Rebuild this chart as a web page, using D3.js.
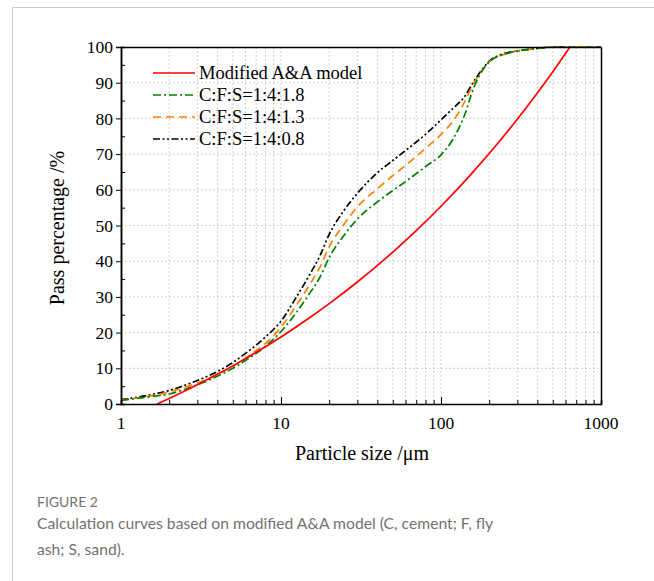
<!DOCTYPE html>
<html><head><meta charset="utf-8">
<script src="https://cdn.jsdelivr.net/npm/d3@7"></script>
<style>
html,body{margin:0;padding:0;background:#fff;}
svg{display:block;}
</style></head>
<body>
<svg id="chart" width="654" height="581"></svg>
<script>
// ---- data ----
const sizes = [1, 1.5, 2, 3, 4, 5, 6, 7, 8, 10, 12.5, 15, 17.5, 20, 25, 30, 40, 50, 60, 80, 100, 120, 140, 160, 180, 200, 250, 300, 400, 500, 700, 1000];
const mix18 = [1.0, 2.0, 2.8, 5.4, 7.8, 10.0, 12.2, 14.2, 16.2, 20.3, 25.7, 30.8, 35.5, 41.0, 47.5, 51.8, 56.6, 59.8, 62.3, 66.5, 69.8, 74.5, 80.8, 88.5, 93.2, 95.8, 98.0, 98.9, 99.6, 100, 100, 100];
const mix13 = [1.1, 2.2, 3.4, 5.9, 8.3, 10.5, 12.8, 15.0, 17.0, 21.5, 27.7, 33.2, 38.3, 44.0, 50.6, 55.2, 60.3, 64.0, 66.8, 71.6, 75.5, 79.5, 84.5, 89.8, 93.3, 95.8, 98.0, 98.9, 99.6, 100, 100, 100];
const mix08 = [1.2, 2.5, 3.8, 6.6, 9.1, 11.6, 14.2, 16.5, 18.8, 23.2, 30.0, 36.0, 41.5, 47.5, 54.5, 59.0, 64.8, 68.2, 71.0, 75.5, 79.6, 83.0, 86.0, 90.3, 93.6, 96.0, 98.2, 98.9, 99.6, 100, 100, 100];
const modelSizes = [1.68, 2, 3, 4, 5, 7, 10, 15, 20, 30, 50, 70, 100, 150, 200, 300, 400, 500, 640];
const modelValues = [0, 1.56, 5.39, 8.30, 10.68, 14.48, 18.79, 24.07, 28.10, 34.17, 42.56, 48.57, 55.40, 63.78, 70.15, 79.78, 87.10, 93.08, 100];
const legendLabels = ["Modified A&A model", "C:F:S=1:4:1.8", "C:F:S=1:4:1.3", "C:F:S=1:4:0.8"];
const xTickLabels = ["1", "10", "100", "1000"];
const yTickLabels = [0, 10, 20, 30, 40, 50, 60, 70, 80, 90, 100];

// ---- layout ----
const svg = d3.select("#chart");
const L = 121, R = 601, T = 47, B = 404;
const x = d3.scaleLog().domain([1, 1000]).range([L, R]);
const y = d3.scaleLinear().domain([0, 100]).range([B, T]);
const serif = "'Liberation Serif','Times New Roman',serif";

// card border
svg.append("path").attr("d", "M12.5,581 V7.5 H654").attr("fill", "none").attr("stroke", "#c8c8c8").attr("stroke-width", 1);

// grid
const minor = [];
for (let e = 0; e < 3; e++) for (let m = 1; m <= 9; m++) minor.push(m * Math.pow(10, e));
minor.push(1000);
const g = svg.append("g");
g.selectAll("line.vg").data(minor.filter(v => v > 1 && v < 1000)).enter().append("line")
  .attr("x1", d => x(d)).attr("x2", d => x(d)).attr("y1", T).attr("y2", B)
  .attr("stroke", "#c4c4c4").attr("stroke-width", 0.8).attr("stroke-dasharray", "2,2");
g.selectAll("line.hg").data(yTickLabels.filter(v => v > 0 && v < 100)).enter().append("line")
  .attr("x1", L).attr("x2", R).attr("y1", d => y(d)).attr("y2", d => y(d))
  .attr("stroke", "#c4c4c4").attr("stroke-width", 0.8).attr("stroke-dasharray", "2,2");

// curves
const line = d3.line().x(d => x(d[0])).y(d => y(d[1])).curve(d3.curveMonotoneX);
const series = [
  {xs: modelSizes, ys: modelValues, color: "#ff0000", dash: null},
  {xs: sizes, ys: mix18, color: "#008000", dash: "8,3,2,3"},
  {xs: sizes, ys: mix13, color: "#ff8000", dash: "8,5"},
  {xs: sizes, ys: mix08, color: "#000000", dash: "7,2.5,2,2.5,2,2.5"}
];
svg.append("clipPath").attr("id", "pc").append("rect").attr("x", L).attr("y", T - 2).attr("width", R - L).attr("height", B - T + 2);
const cg = svg.append("g").attr("clip-path", "url(#pc)");
[3, 2, 1, 0].forEach(i => {
  const s = series[i];
  cg.append("path").datum(s.xs.map((v, k) => [v, s.ys[k]]))
    .attr("d", line).attr("fill", "none").attr("stroke", s.color)
    .attr("stroke-width", 1.7).attr("stroke-dasharray", s.dash);
});

// axes
const xAxis = svg.append("g").attr("transform", `translate(0,${B})`)
  .call(d3.axisBottom(x).tickValues(minor).tickSize(-4).tickFormat(() => ""));
xAxis.selectAll(".tick line").filter(d => [1, 10, 100, 1000].includes(d)).attr("y2", -7);
svg.append("g").attr("transform", `translate(0,${T})`)
  .call(d3.axisTop(x).tickValues([]).tickSizeOuter(0));
svg.append("g").attr("transform", `translate(${L},0)`)
  .call(d3.axisLeft(y).tickValues(yTickLabels).tickSize(5).tickPadding(3).tickFormat(d => d));
svg.append("g").attr("transform", `translate(${L},0)`)
  .call(d3.axisRight(y).tickValues([5, 15, 25, 35, 45, 55, 65, 75, 85, 95]).tickSize(4).tickFormat(() => ""));
svg.append("g").attr("transform", `translate(${R},0)`)
  .call(d3.axisRight(y).tickValues([]).tickSizeOuter(0));
svg.selectAll(".domain").attr("stroke", "#000").attr("stroke-width", 1.5);
svg.selectAll(".tick line").attr("stroke", "#000").attr("stroke-width", 1);
svg.selectAll(".tick text").attr("font-family", serif).attr("font-size", 17.5).attr("fill", "#000");

// x tick labels
svg.append("g").selectAll("text").data(xTickLabels).enter().append("text")
  .attr("x", d => x(+d)).attr("y", 429).attr("text-anchor", "middle")
  .attr("font-family", serif).attr("font-size", 17.5).text(d => d);

// axis titles
svg.append("text").attr("x", 362).attr("y", 460).attr("text-anchor", "middle")
  .attr("font-family", serif).attr("font-size", 20).text("Particle size /μm");
svg.append("text").attr("transform", "translate(64,228) rotate(-90)").attr("text-anchor", "middle")
  .attr("font-family", serif).attr("font-size", 20).text("Pass percentage /%");

// legend
const lg = svg.append("g");
const rowsY = [73, 95, 117, 139];
series.forEach((s, i) => {
  lg.append("line").attr("x1", 153).attr("x2", 195).attr("y1", rowsY[i]).attr("y2", rowsY[i])
    .attr("stroke", s.color).attr("stroke-width", 1.7).attr("stroke-dasharray", s.dash);
  lg.append("text").attr("x", 199).attr("y", rowsY[i] + 6)
    .attr("font-family", serif).attr("font-size", 18.5).text(legendLabels[i]);
});

// caption
const sans = "Lato,'Open Sans','Noto Sans',sans-serif";
svg.append("text").attr("x", 37).attr("y", 507).attr("font-family", sans).attr("font-size", 14)
  .attr("fill", "#727272").text("FIGURE 2");
svg.append("text").attr("x", 37).attr("y", 529).attr("font-family", sans).attr("font-size", 15.7)
  .attr("fill", "#727272").text("Calculation curves based on modified A&A model (C, cement; F, fly");
svg.append("text").attr("x", 37).attr("y", 555).attr("font-family", sans).attr("font-size", 15.7)
  .attr("fill", "#727272").text("ash; S, sand).");
</script>
</body></html>
